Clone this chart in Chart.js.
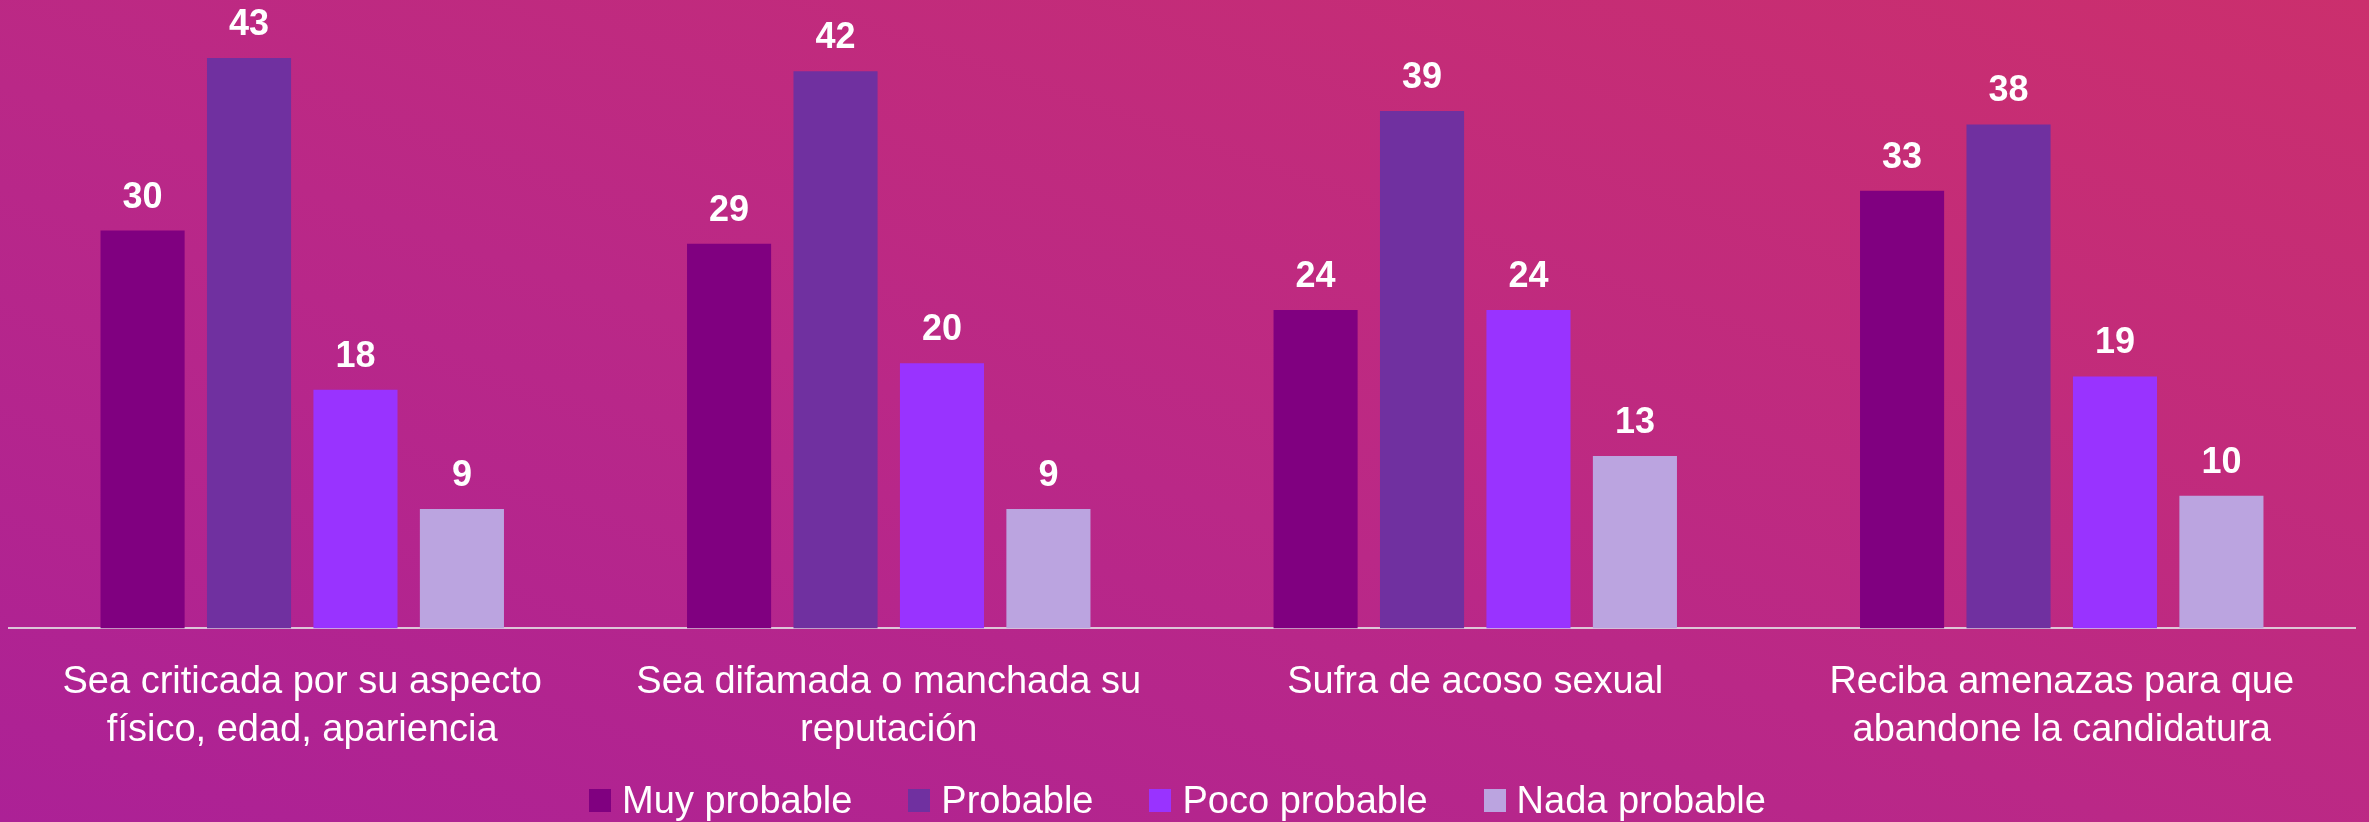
<!DOCTYPE html>
<html>
<head>
<meta charset="utf-8">
<script src="https://cdn.jsdelivr.net/npm/chart.js@4"></script>
<style>
  html, body { margin: 0; padding: 0; overflow: hidden; }
  body {
    width: 2369px; height: 822px; position: relative;
    background: linear-gradient(to top right, #AC2196 0%, #BA2887 45%, #CB2F6D 100%);
    font-family: "Liberation Sans", Arial, sans-serif;
  }
  #wrap { position: absolute; left: 0; top: 0; width: 2369px; height: 822px; }
  #legend {
    position: absolute; left: -7px; width: 2369px; top: 781px;
    display: flex; justify-content: center; align-items: center;
    color: #fff; font-size: 38px; line-height: 38px;
  }
  #legend .item { display: flex; align-items: center; margin: 0 28px; }
  #legend .box { width: 22px; height: 23px; margin-right: 11px; }
</style>
</head>
<body>
<div id="wrap"><canvas id="chart"></canvas></div>
<div id="legend"></div>
<script>
const categories = [
    ['Sea criticada por su aspecto', 'físico, edad, apariencia'],
    ['Sea difamada o manchada su', 'reputación'],
    ['Sufra de acoso sexual'],
    ['Reciba amenazas para que', 'abandone la candidatura']
];
const seriesNames = ['Muy probable', 'Probable', 'Poco probable', 'Nada probable'];
const seriesColors = ['#800080', '#7030A0', '#9933FF', '#BBA4E0'];

const muyProbable = [30, 29, 24, 33];
const probable = [43, 42, 39, 38];
const pocoProbable = [18, 20, 24, 19];
const nadaProbable = [9, 9, 13, 10];
const seriesValues = [muyProbable, probable, pocoProbable, nadaProbable];

// value labels above each bar, placed from the bar elements
const barLabels = {
    id: 'barLabels',
    afterDatasetsDraw(chart) {
        const ctx = chart.ctx;
        ctx.save();
        ctx.fillStyle = '#ffffff';
        ctx.font = 'bold 36px "Liberation Sans", Arial, sans-serif';
        ctx.textAlign = 'center';
        ctx.textBaseline = 'alphabetic';
        chart.data.datasets.forEach((ds, i) => {
            chart.getDatasetMeta(i).data.forEach((bar, j) => {
                ctx.fillText(ds.data[j], bar.x, bar.y - 23);
            });
        });
        ctx.restore();
    }
};

const ctx = document.getElementById('chart').getContext('2d');
new Chart(ctx, {
    type: 'bar',
    data: {
        labels: categories,
        datasets: seriesNames.map((name, i) => ({
            label: name,
            data: seriesValues[i],
            backgroundColor: seriesColors[i],
            borderWidth: 0,
            categoryPercentage: 0.726,
            barPercentage: 0.79
        }))
    },
    options: {
        responsive: true,
        maintainAspectRatio: false,
        animation: false,
        layout: { padding: { top: 5, left: 9, right: 14, bottom: 37 } },
        plugins: {
            legend: { display: false },
            tooltip: { enabled: false }
        },
        scales: {
            x: {
                grid: { display: false, drawTicks: false },
                border: { display: true, color: 'rgba(225,215,225,0.9)', width: 2 },
                ticks: {
                    color: '#ffffff',
                    padding: 30,
                    maxRotation: 0,
                    autoSkip: false,
                    font: { family: '"Liberation Sans", Arial, sans-serif', size: 38, lineHeight: 1.27 }
                }
            },
            y: {
                display: false,
                min: 0,
                max: 47
            }
        }
    },
    plugins: [barLabels]
});

// legend built from the series arrays
const legend = document.getElementById('legend');
seriesNames.forEach((name, i) => {
    const item = document.createElement('div');
    item.className = 'item';
    const box = document.createElement('span');
    box.className = 'box';
    box.style.background = seriesColors[i];
    const txt = document.createElement('span');
    txt.textContent = name;
    item.appendChild(box);
    item.appendChild(txt);
    legend.appendChild(item);
});
</script>
</body>
</html>
